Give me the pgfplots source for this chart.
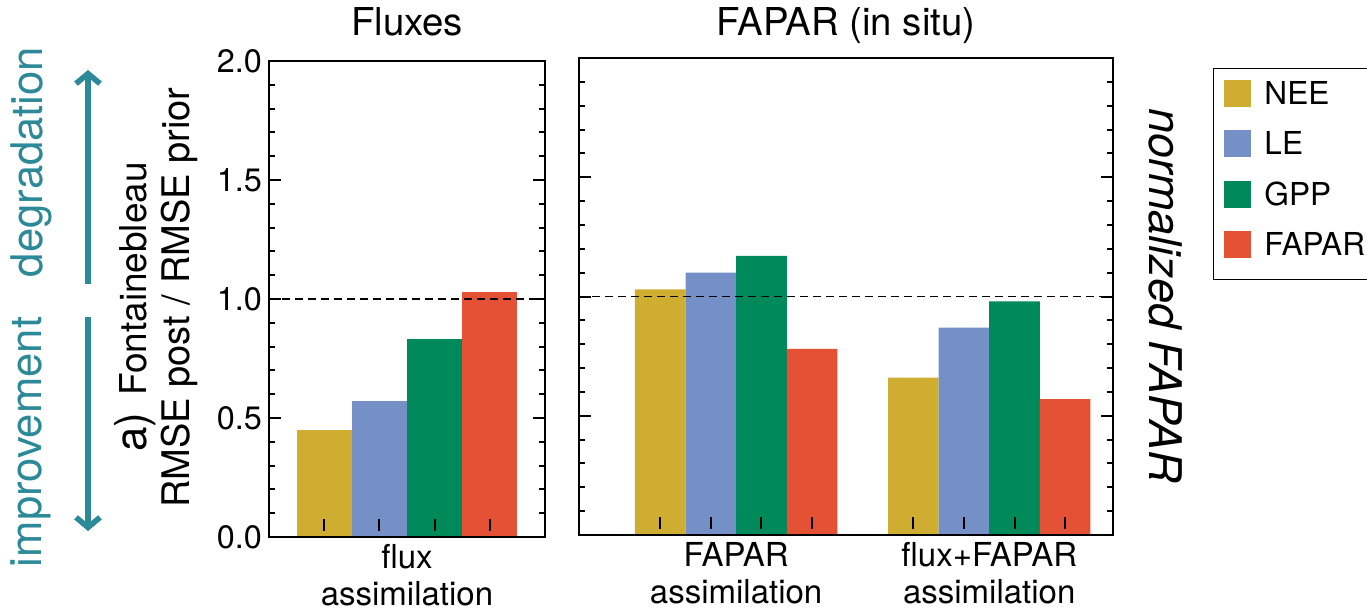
\documentclass[border=0pt]{standalone}
\usepackage{pgfplots}
\pgfplotsset{compat=1.18}
\usepackage{fontspec}
\setmainfont{TeX Gyre Heros}
\usetikzlibrary{arrows.meta}
\definecolor{neec}{RGB}{207,173,49}
\definecolor{lec}{RGB}{116,144,199}
\definecolor{gppc}{RGB}{0,138,92}
\definecolor{fapc}{RGB}{229,81,52}
\definecolor{tealc}{RGB}{44,137,152}
\pgfplotsset{
  common/.style={
    scale only axis, ymin=0, ymax=2, ybar, bar shift=0pt,
    axis on top,
    ytick={0,0.5,1,1.5,2}, minor y tick num=4,
    xtick pos=bottom, tick align=inside, xtick align=inside,
    major tick length=6pt, minor tick length=3pt,
    every tick/.style={black, line width=1pt},
    x tick style={yshift=3pt},
    axis line style={line width=1.2pt},
    y tick label style={font=\fontsize{16.2}{19}\selectfont},
    /pgf/number format/fixed, /pgf/number format/fixed zerofill,
    /pgf/number format/precision=1, /pgf/number format/assume math mode=true,
    title style={font=\fontsize{19.2}{23}\selectfont, anchor=base, at={(0.5,1)}},
    extra x tick style={major tick length=0pt, xticklabel style={align=center, font=\fontsize{16.5}{18.5}\selectfont}},
    xticklabels={},
  },
  sq/.style={fill=#1, draw=none, bar shift=0pt,
    legend image code/.code={\fill[#1] (0pt,-6.75pt) rectangle (13.5pt,6.75pt);}},
  refline/.style={forget plot, sharp plot, black, line width=0.7pt, dash pattern=on 4pt off 2.5pt},
}
\begin{document}
\begin{tikzpicture}
\path[use as bounding box] (0,0) rectangle (683.5pt,-307.5pt);

\begin{axis}[common, at={(134.5pt,-268.5pt)}, anchor=south west,
  width=138pt, height=238pt,
  xmin=-1, xmax=1, bar width=0.4,
  xtick={-0.6,-0.2,0.2,0.6},
  extra x ticks={0}, extra x tick labels={{flux\\assimilation}},
  title={Fluxes}, title style={yshift=7pt}]
\addplot[sq=neec] coordinates {(-0.6,0.45)};
\addplot[sq=lec]  coordinates {(-0.2,0.57)};
\addplot[sq=gppc] coordinates {(0.2,0.83)};
\addplot[sq=fapc] coordinates {(0.6,1.03)};
\addplot[refline] coordinates {(-1,1) (1,1)};
\end{axis}

\begin{axis}[common, at={(289.5pt,-267.5pt)}, anchor=south west,
  width=267pt, height=238.5pt,
  xmin=0.379, xmax=2.489, bar width=0.2,
  xtick={0.7,0.9,1.1,1.3,1.7,1.9,2.1,2.3},
  yticklabels={},
  extra x ticks={1,2}, extra x tick labels={{FAPAR\\assimilation},{flux+FAPAR\\assimilation}},
  title={FAPAR (in situ)}, title style={yshift=5.5pt},
  legend cell align=left,
  legend style={at={(1.187,0.979)}, anchor=north west, draw=black, line width=0.6pt,
    inner xsep=5.5pt, inner ysep=5.5pt, row sep=11.75pt,
    font=\fontsize{15.8}{18}\selectfont,
    nodes={inner sep=0pt, text height=11.3pt, text depth=0pt},
    /tikz/every odd column/.append style={column sep=6.5pt}}]
\addplot[sq=neec] coordinates {(0.7,1.03) (1.7,0.66)};
\addlegendentry{NEE}
\addplot[sq=lec]  coordinates {(0.9,1.10) (1.9,0.87)};
\addlegendentry{LE}
\addplot[sq=gppc] coordinates {(1.1,1.17) (2.1,0.98)};
\addlegendentry{GPP}
\addplot[sq=fapc, legend image code/.code={\fill[fapc] (0pt,-6.75pt) rectangle (13.5pt,6.75pt); \path (0pt,-11.75pt);}] coordinates {(1.3,0.78) (2.3,0.57)};
\addlegendentry{FAPAR}
\addplot[refline] coordinates {(0.379,1) (2.489,1)};
\end{axis}

\draw[tealc, line width=2.8pt, -{Straight Barb[length=5pt, width=12pt]}] (44pt,-142pt) -- (44pt,-35pt);
\draw[tealc, line width=2.8pt, -{Straight Barb[length=5pt, width=12pt]}] (44pt,-158.5pt) -- (44pt,-265.5pt);
\node[rotate=90, text=tealc, font=\fontsize{21.8}{24}\selectfont] at (15.5pt,-81pt) {degradation};
\node[rotate=90, text=tealc, font=\fontsize{21.8}{24}\selectfont] at (15.5pt,-221pt) {improvement};
\node[rotate=90, anchor=base west, inner sep=0pt, font=\fontsize{18.5}{22}\selectfont] at (73pt,-226pt) {{\fontsize{22}{24}\selectfont a)}\hspace{0.45em}Fontainebleau};
\node[rotate=90, anchor=base west, inner sep=0pt, font=\fontsize{19}{22}\selectfont] at (94.5pt,-254pt) {RMSE post / RMSE prior};
\node[rotate=-90, font=\fontsize{22.5}{26}\selectfont\itshape] at (583pt,-148pt) {normalized FAPAR};
\end{tikzpicture}
\end{document}
